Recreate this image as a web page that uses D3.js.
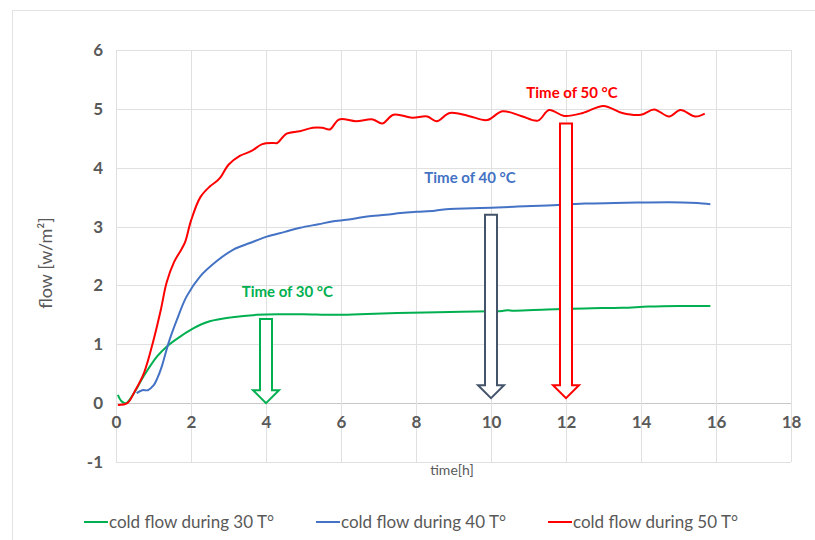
<!DOCTYPE html>
<html>
<head>
<meta charset="utf-8">
<script src="https://cdn.jsdelivr.net/npm/d3@7"></script>
<style>
  html, body { margin: 0; padding: 0; background: #ffffff; }
  svg { display: block; }
</style>
</head>
<body>
<svg id="chart" width="815" height="540"></svg>
<script>
// ---- data -------------------------------------------------------------
// time in hours, flow in W/m²
const time30 = [0.05, 0.15, 0.27, 0.45, 0.73, 1.09, 1.35, 1.71, 2.06, 2.5, 3.1, 3.75, 4.45, 5.0, 5.8, 6.5, 7.5, 8.9, 10.0, 10.3, 10.45, 10.6, 11.5, 12.5, 13.5, 14.2, 15.0, 15.85];
const flow30 = [0.14, 0.03, 0.0, 0.14, 0.45, 0.79, 0.96, 1.13, 1.27, 1.39, 1.46, 1.5, 1.51, 1.51, 1.5, 1.51, 1.53, 1.55, 1.56, 1.565, 1.58, 1.57, 1.59, 1.61, 1.62, 1.64, 1.65, 1.65];

const time40 = [0.55, 0.7, 0.85, 1.0, 1.1, 1.22, 1.4, 1.62, 1.88, 2.24, 2.68, 3.13, 3.57, 4.02, 4.5, 4.91, 5.4, 5.8, 6.3, 6.7, 7.2, 7.6, 8.0, 8.5, 8.9, 9.5, 10.0, 10.7, 11.5, 12.5, 13.3, 14.2, 15.1, 15.5, 15.85];
const flow40 = [0.17, 0.22, 0.22, 0.3, 0.42, 0.62, 1.02, 1.41, 1.81, 2.15, 2.41, 2.61, 2.72, 2.83, 2.91, 2.98, 3.04, 3.09, 3.13, 3.17, 3.2, 3.23, 3.25, 3.27, 3.3, 3.31, 3.32, 3.34, 3.36, 3.39, 3.4, 3.41, 3.41, 3.4, 3.38];

const time50 = [0.05, 0.3, 0.5, 0.75, 1.0, 1.2, 1.35, 1.55, 1.75, 1.85, 2.0, 2.25, 2.5, 2.7, 2.8, 3.0, 3.3, 3.6, 3.9, 4.2, 4.3, 4.55, 4.9, 5.25, 5.5, 5.7, 5.95, 6.4, 6.85, 7.1, 7.4, 7.9, 8.3, 8.55, 8.9, 9.4, 9.9, 10.3, 10.8, 11.25, 11.55, 11.95, 12.45, 13.0, 13.5, 14.0, 14.35, 14.75, 15.05, 15.45, 15.7];
const flow50 = [-0.03, 0.0, 0.2, 0.52, 1.07, 1.6, 2.05, 2.4, 2.62, 2.75, 3.1, 3.5, 3.68, 3.78, 3.85, 4.05, 4.2, 4.28, 4.4, 4.42, 4.42, 4.58, 4.62, 4.68, 4.68, 4.65, 4.82, 4.79, 4.82, 4.75, 4.9, 4.85, 4.87, 4.79, 4.93, 4.88, 4.81, 4.96, 4.88, 4.8, 4.98, 4.88, 4.93, 5.05, 4.93, 4.9, 4.99, 4.87, 4.98, 4.87, 4.92];

const seriesNames = ["cold flow during 30 T°", "cold flow during 40 T°", "cold flow during 50 T°"];
const seriesColors = ["#00b050", "#4472c4", "#ff0000"];

// marker arrows: time, top and tip of the arrow (flow units)
const arrowTime = [4, 10, 12];
const arrowTop = [1.43, 3.2, 4.75];
const arrowTip = [0.0, 0.085, 0.085];
const arrowColors = ["#00b050", "#44546a", "#ff0000"];

// annotation labels (centre position in data units)
const noteText = ["Time of 30 °C", "Time of 40 °C", "Time of 50 °C"];
const noteTime = [4.57, 9.44, 12.16];
const noteFlow = [1.89, 3.83, 5.27];
const noteColors = ["#00b050", "#4472c4", "#ff0000"];

const xTicks = [0, 2, 4, 6, 8, 10, 12, 14, 16, 18];
const yTicks = [-1, 0, 1, 2, 3, 4, 5, 6];

// ---- layout -------------------------------------------------------------
const svg = d3.select("#chart");
const font = "Lato, 'Open Sans', sans-serif";
const grey = "#595959";

const x = d3.scaleLinear().domain([0, 18]).range([116, 791]);
const y = d3.scaleLinear().domain([-1, 6]).range([462, 50]);

// plain hyphen for negatives, as in the tick labels
const fmt = d => String(d);

// chart frame
svg.append("rect")
  .attr("x", 12.5).attr("y", 10.5)
  .attr("width", 815).attr("height", 540)
  .attr("fill", "#ffffff")
  .attr("stroke", "#e3e3e3");

// gridlines
const grid = svg.append("g");
grid.selectAll("line.h").data(yTicks).join("line")
  .attr("x1", x(0)).attr("x2", x(18))
  .attr("y1", d => Math.round(y(d)) + 0.5).attr("y2", d => Math.round(y(d)) + 0.5)
  .attr("stroke", d => d === 0 ? "#c8c8c8" : "#e0e0e0")
  .attr("stroke-width", 1);
grid.selectAll("line.v").data(xTicks).join("line")
  .attr("y1", y(6)).attr("y2", y(-1))
  .attr("x1", d => Math.round(x(d)) + 0.5).attr("x2", d => Math.round(x(d)) + 0.5)
  .attr("stroke", "#e0e0e0")
  .attr("stroke-width", 1);

// y axis labels
const yAxis = d3.axisLeft(y).tickValues(yTicks).tickSize(0).tickPadding(13)
  .tickFormat(fmt);
svg.append("g").attr("transform", `translate(${x(0)},0)`).call(yAxis)
  .call(g => g.select(".domain").remove())
  .selectAll("text")
  .attr("font-family", font).attr("font-size", 17).attr("font-weight", 700)
  .attr("fill", grey);

// x axis labels sit below the zero line
const xAxis = d3.axisBottom(x).tickValues(xTicks).tickSize(0).tickPadding(13)
  .tickFormat(fmt);
svg.append("g").attr("transform", `translate(0,${y(0)})`).call(xAxis)
  .call(g => g.select(".domain").remove())
  .selectAll("text")
  .attr("font-family", font).attr("font-size", 17).attr("font-weight", 700)
  .attr("fill", grey);

// axis titles
svg.append("text")
  .attr("transform", `translate(52,263) rotate(-90)`)
  .attr("text-anchor", "middle")
  .attr("font-family", font).attr("font-size", 18)
  .attr("fill", grey)
  .text("flow [w/m²]");

svg.append("text")
  .attr("x", 452).attr("y", 475)
  .attr("text-anchor", "middle")
  .attr("font-family", font).attr("font-size", 14)
  .attr("fill", grey)
  .text("time[h]");

// ---- series -------------------------------------------------------------
const series = [
  { t: time30, f: flow30 },
  { t: time40, f: flow40 },
  { t: time50, f: flow50 }
];
const line = d3.line()
  .x(d => x(d[0])).y(d => y(d[1]))
  .curve(d3.curveCatmullRom.alpha(0.5));

series.forEach((s, i) => {
  svg.append("path")
    .datum(s.t.map((t, k) => [t, s.f[k]]))
    .attr("fill", "none")
    .attr("stroke", seriesColors[i])
    .attr("stroke-width", 2)
    .attr("stroke-linejoin", "round")
    .attr("d", line);
});

// ---- hollow block arrows --------------------------------------------------
const shaftHalf = 6, headHalf = 13, headLen = 13;
arrowTime.forEach((t, i) => {
  const cx = x(t), top = y(arrowTop[i]), tip = y(arrowTip[i]);
  const hb = tip - headLen;
  const pts = [
    [cx - shaftHalf, top], [cx + shaftHalf, top], [cx + shaftHalf, hb],
    [cx + headHalf, hb], [cx, tip], [cx - headHalf, hb], [cx - shaftHalf, hb]
  ];
  svg.append("path")
    .attr("d", "M" + pts.map(p => p.join(",")).join("L") + "Z")
    .attr("fill", "#ffffff")
    .attr("stroke", arrowColors[i])
    .attr("stroke-width", 2)
    .attr("stroke-linejoin", "miter");
});

// ---- annotations ----------------------------------------------------------
noteText.forEach((txt, i) => {
  svg.append("text")
    .attr("x", x(noteTime[i])).attr("y", y(noteFlow[i]))
    .attr("dy", "0.35em")
    .attr("text-anchor", "middle")
    .attr("font-family", font).attr("font-size", 15).attr("font-weight", 700)
    .attr("fill", noteColors[i])
    .text(txt);
});

// ---- legend -------------------------------------------------------------
const legendX = [84, 316, 548];
const legend = svg.append("g");
seriesNames.forEach((name, i) => {
  legend.append("line")
    .attr("x1", legendX[i]).attr("x2", legendX[i] + 24)
    .attr("y1", 522).attr("y2", 522)
    .attr("stroke", seriesColors[i]).attr("stroke-width", 2);
  legend.append("text")
    .attr("x", legendX[i] + 25).attr("y", 522)
    .attr("dy", "0.35em")
    .attr("font-family", font).attr("font-size", 17)
    .attr("fill", grey)
    .text(name);
});
</script>
</body>
</html>
